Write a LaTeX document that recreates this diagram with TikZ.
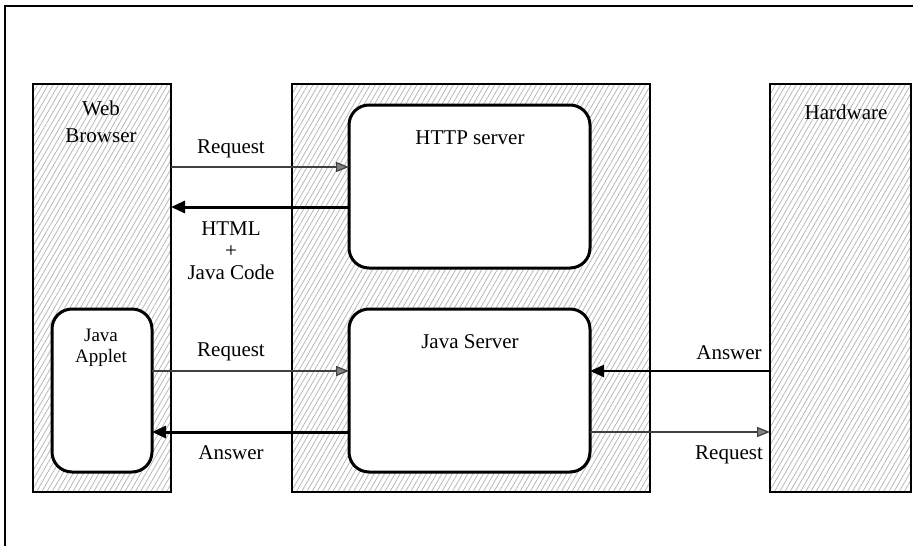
\documentclass[tikz,border=0pt]{standalone}
\usepackage{fontspec}
\setmainfont{Liberation Serif}
\usetikzlibrary{patterns.meta,arrows.meta}
\begin{document}
\begin{tikzpicture}[x=1pt,y=-1pt,
 hatchbox/.style={draw=black,line width=2.5pt,pattern={Lines[angle=60,distance=4.5pt,line width=0.7pt]},pattern color=gray!60,anchor=north west,inner sep=0pt,outer sep=0pt},
 roundbox/.style={draw=black,line width=3pt,fill=white,rounded corners=20pt,anchor=north west,inner sep=0pt,outer sep=0pt},
 lbl/.style={font=\fontsize{21}{27}\selectfont,align=center,inner sep=0pt},
 thinarr/.style={draw=black!75,line width=1.2pt,-{Triangle[length=13pt,width=10pt,fill=gray]}},
 thickarr/.style={draw=black,line width=3pt,-{Triangle[length=14pt,width=12pt]}},
 midarr/.style={draw=black,line width=2.2pt,-{Triangle[length=14pt,width=12pt]}}]

\useasboundingbox (0,0) rectangle (913,546);
\fill[white] (0,0) rectangle (913,546);
\draw[line width=2.5pt] (913,6) -- (5,6) -- (5,546);

% outer hatched boxes
\node[hatchbox,minimum width=138pt,minimum height=408pt] (web) at (33,84) {};
\node[hatchbox,minimum width=358pt,minimum height=408pt] (mid) at (292,84) {};
\node[hatchbox,minimum width=141pt,minimum height=408pt] (hw) at (770,84) {};

% rounded boxes
\node[roundbox,minimum width=241pt,minimum height=163pt] (http) at (349,105) {};
\node[roundbox,minimum width=241pt,minimum height=163pt] (js) at (349,309) {};
\node[roundbox,minimum width=100pt,minimum height=163pt] (applet) at (52,309) {};

% box labels
\node[lbl] (tweb) at (101,121.5) {Web\\Browser};
\node[lbl] (thw) at (846,112) {Hardware};
\node[lbl] (thttp) at (470,138) {HTTP server};
\node[lbl] (tjs) at (470,342) {Java Server};
\node[lbl,font=\fontsize{19}{21}\selectfont] (tapplet) at (101,347.5) {Java\\Applet};

% row coordinates
\coordinate (r1) at (0,167);
\coordinate (r2) at (0,207);
\coordinate (r3) at (0,371);
\coordinate (r4) at (0,432);

% arrows
\draw[thinarr] (web.east |- r1) -- (http.west |- r1);
\draw[thickarr] (http.west |- r2) -- (web.east |- r2);
\draw[thinarr] (applet.east |- r3) -- (js.west |- r3);
\draw[thickarr] (js.west |- r4) -- (applet.east |- r4);
\draw[midarr] (hw.west |- r3) -- (js.east |- r3);
\draw[thinarr] (js.east |- r4) -- (hw.west |- r4);

% arrow labels
\node[lbl] (l1) at (231,149) {Request};
\node[lbl,font=\fontsize{21}{22}\selectfont] (l2) at (231,251) {HTML\\+\\Java Code};
\node[lbl] (l3) at (231,352) {Request};
\node[lbl] (l4) at (231,453) {Answer};
\node[lbl] (l5) at (729,353) {Answer};
\node[lbl] (l6) at (729,455) {Request};
\end{tikzpicture}
\end{document}
